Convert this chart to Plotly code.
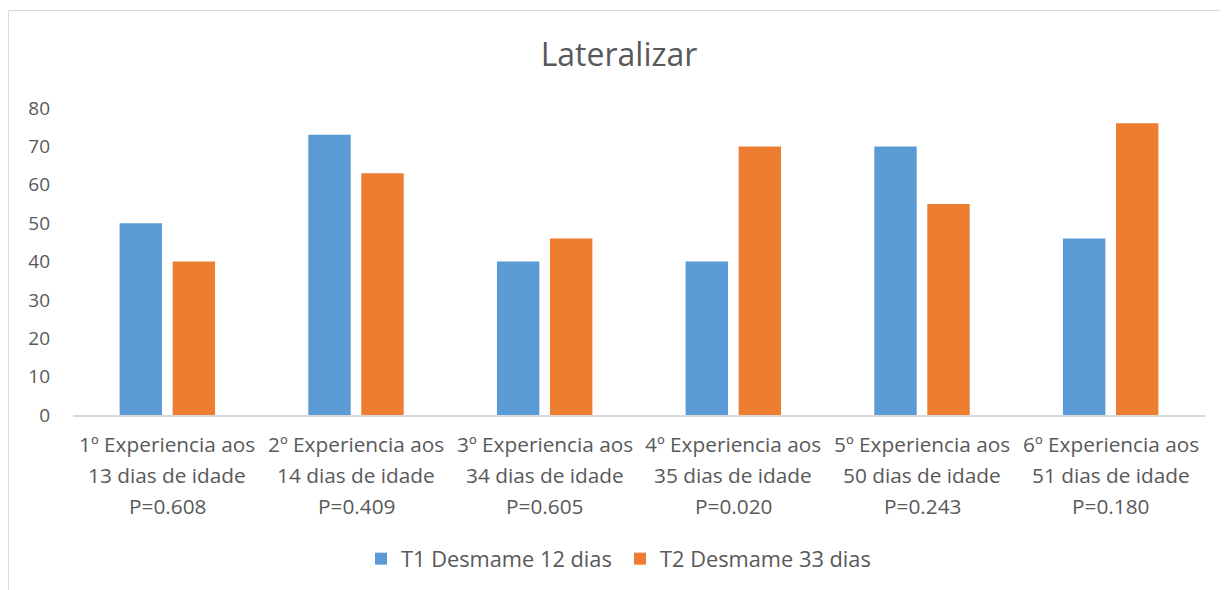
import plotly.graph_objects as go

categories = [
    "1º Experiencia aos<br>13 dias de idade<br>P=0.608",
    "2º Experiencia aos<br>14 dias de idade<br>P=0.409",
    "3º Experiencia aos<br>34 dias de idade<br>P=0.605",
    "4º Experiencia aos<br>35 dias de idade<br>P=0.020",
    "5º Experiencia aos<br>50 dias de idade<br>P=0.243",
    "6º Experiencia aos<br>51 dias de idade<br>P=0.180",
]
t1_values = [50, 73, 40, 40, 70, 46]
t2_values = [40, 63, 46, 70, 55, 76]
series_names = ["T1 Desmame 12 dias", "T2 Desmame 33 dias"]
y_ticks = [0, 10, 20, 30, 40, 50, 60, 70, 80]

FONT = "Open Sans, Noto Sans, sans-serif"
TXT = "#595959"

# page body has an 8px margin; positions below are in figure coordinates
L, R, T, B = 65, 31, 100, 183
W, H = 1228, 590
PW, PH = W - L - R, H - T - B

fig = go.Figure()
fig.add_trace(go.Bar(x=categories, y=t1_values, name=series_names[0],
                     marker=dict(color="#5B9BD5", line=dict(width=0))))
fig.add_trace(go.Bar(x=categories, y=t2_values, name=series_names[1],
                     marker=dict(color="#ED7D31", line=dict(width=0))))

annotations = []
for c in categories:
    for i, line in enumerate(c.split("<br>")):
        annotations.append(dict(
            x=c, xref="x", y=0, yref="paper", yanchor="middle",
            yshift=-29 - 31 * i, text=line, showarrow=False,
            font=dict(family=FONT, size=20.8, color=TXT)))

fig.update_layout(
    width=W, height=H,
    margin=dict(l=L, r=R, t=T, b=B),
    paper_bgcolor="white", plot_bgcolor="white",
    barmode="group", bargap=0.438, bargroupgap=0.2,
    title=dict(text="Lateralizar", x=(619 - 8 - L) / PW, xref="paper",
               xanchor="center", y=1 - 47 / H,
               yanchor="middle", font=dict(family=FONT, size=32, color=TXT)),
    font=dict(family=FONT, size=18, color=TXT),
    xaxis=dict(showticklabels=False, showline=True, linecolor="#d9d9d9",
               linewidth=1.5, ticks="", showgrid=False, zeroline=False,
               fixedrange=True),
    yaxis=dict(range=[0, 80], tickvals=y_ticks, showgrid=False, zeroline=False,
               showline=False, ticks="", ticklabelstandoff=22,
               tickfont=dict(family=FONT, size=19, color=TXT)),
    legend=dict(orientation="h", x=(620 - 8 - L) / PW, xanchor="center",
                y=-(559 - 415) / PH, yanchor="middle",
                font=dict(family=FONT, size=21.8, color=TXT),
                itemwidth=30, entrywidth=214),
    annotations=annotations,
    shapes=[dict(type="rect", xref="paper", yref="paper",
                 x0=(0.5 - L) / PW, x1=(1219.5 - L) / PW,
                 y0=-0.9, y1=1 + (T - 2.5) / PH,
                 line=dict(color="#d9d9d9", width=1), layer="below")],
    showlegend=True,
)

fig.write_html("out.html")
